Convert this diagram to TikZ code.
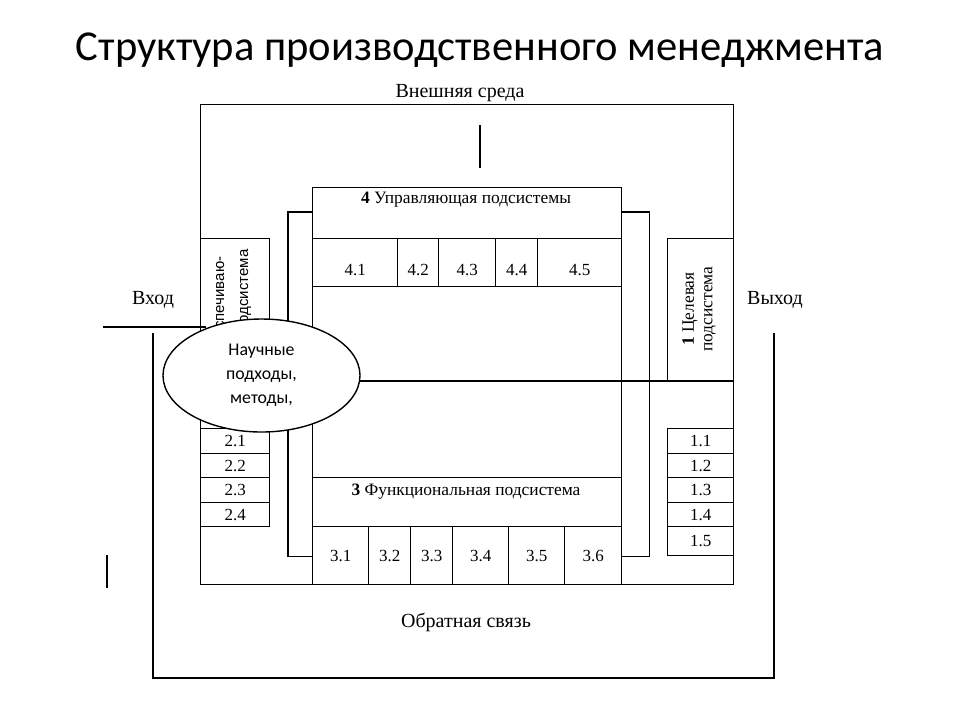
\documentclass[tikz,border=0pt]{standalone}
\usepackage{fontspec}
\setmainfont{Liberation Serif}
\setsansfont{Liberation Sans}
\newfontfamily\calibri{Carlito}
\usetikzlibrary{positioning,shapes.geometric}
\tikzset{
  frame/.style={draw,inner sep=0pt,anchor=north west},
  cell/.style={frame,font=\fontsize{8.5}{10}\selectfont,text depth=0pt},
  hdr/.style={font=\fontsize{8.7}{10}\selectfont},
  lbl/.style={font=\fontsize{10}{12}\selectfont},
  tick/.style={line width=1.3pt}
}
\begin{document}
\begin{tikzpicture}[x=0.5pt,y=-0.5pt,line width=0.7pt]
\useasboundingbox (0,0) rectangle (960,720);
\node[font=\calibri\fontsize{21.3}{26}\selectfont] (title) at (480,50) {Структура производственного менеджмента};
% environment and feedback loop
\node[frame,minimum width=266.5pt,minimum height=240pt] (env) at (200,104) {};
\node[lbl] (envlbl) at (460,93) {Внешняя среда};
\coordinate (fbL) at (153,333); \coordinate (fbR) at (774,333); \coordinate (fbB) at (774,678);
\draw (fbL) |- (fbB) -- (fbR);
\node[lbl] (fblbl) at (466,622) {Обратная связь};
\node[lbl] (inlbl) at (153,300) {Вход};
\node[lbl] (outlbl) at (775,300) {Выход};
\coordinate (in0) at (103,327); \coordinate (in1) at (206,327);
\draw[line width=1pt] (in0) -- (in1);
\coordinate (t1a) at (480,125); \coordinate (t1b) at (480,168);
\coordinate (t2a) at (107,555); \coordinate (t2b) at (107,588);
\draw[tick] (t1a) -- (t1b); \draw[tick] (t2a) -- (t2b);
% subsystem 4
\node[frame,minimum width=154.5pt,minimum height=97pt] (sys4) at (312,187) {};
\node[hdr] (hdr4) at (466,200) {\textbf{4} Управляющая подсистемы};
\foreach\a/\b/\t[count=\i] in {312/397/4.1,397/438/4.2,438/495/4.3,495/537/4.4,537/621/4.5}
  \node[cell,text height=12.7pt,minimum width={(\b-\a)*0.5pt},minimum height=24pt] (c4\i) at (\a,238) {\t};
% subsystem 3
\node[frame,minimum width=154.5pt,minimum height=101.5pt] (sys3) at (312,381) {};
\node[frame,minimum width=154.5pt,minimum height=24.5pt] (row3) at (312,477) {};
\node[hdr] (hdr3) at (466,492) {\textbf{3} Функциональная подсистема};
\foreach\a/\b/\t[count=\i] in {312/368/3.1,368/410/3.2,410/452/3.3,452/508/3.4,508/564/3.5,564/621/3.6}
  \node[cell,minimum width={(\b-\a)*0.5pt},minimum height=29pt] (c3\i) at (\a,526) {\t};
\draw ([yshift=-12.5pt]sys4.north west) -| ([xshift=-12pt,yshift=14.5pt]sys3.south west) -- ([yshift=14.5pt]sys3.south west);
\draw ([yshift=-12.5pt]sys4.north east) -| ([xshift=13.5pt,yshift=14.5pt]sys3.south east) -- ([yshift=14.5pt]sys3.south east);
% subsystem 2
\node[frame,minimum width=34.5pt,minimum height=95pt] (sys2) at (200,238) {};
\node[rotate=90,align=center,font=\sffamily\fontsize{7.5}{12}\selectfont] (sys2lbl) at (232,307) {Обеспечиваю-\\щая подсистема};
\foreach\t[count=\i] in {2.1,2.2,2.3,2.4}
  \node[cell,minimum width=34.5pt,minimum height=12.25pt] (c2\i) at ({200},{428+24.5*(\i-1)}) {\t};
% subsystem 1
\node[frame,minimum width=33pt,minimum height=71.5pt] (sys1) at (667,238) {};
\node[rotate=90,align=center,font=\fontsize{8.7}{9.3}\selectfont] (sys1lbl) at (699,309) {\textbf{1} Целевая\\подсистема};
\foreach\t[count=\i] in {1.1,1.2,1.3,1.4}
  \node[cell,minimum width=33pt,minimum height=12.25pt] (c1\i) at ({667},{428+24.5*(\i-1)}) {\t};
\node[cell,minimum width=33pt,minimum height=14.5pt] (c15) at (667,526) {1.5};
\draw (sys2.west |- sys3.north) -- (env.east |- sys3.north);
\node[ellipse,draw,fill=white,inner sep=0pt,minimum width=98.5pt,minimum height=56.5pt,align=center,font=\calibri\fontsize{8.9}{12}\selectfont] (sci) at (261.5,375.5) {Научные\\подходы,\\методы,};
\end{tikzpicture}
\end{document}
